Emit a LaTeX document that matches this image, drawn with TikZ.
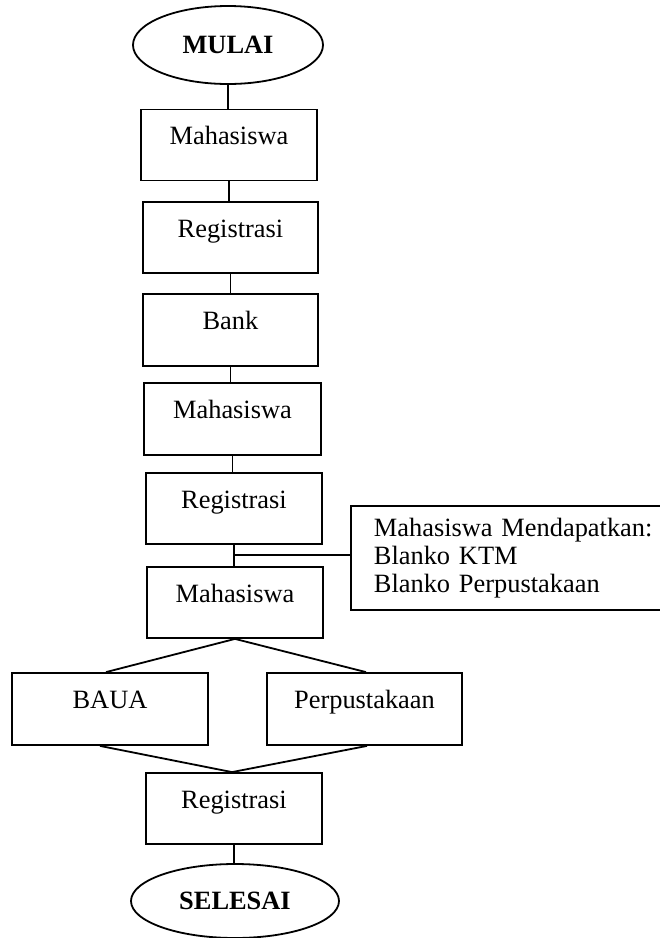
\documentclass[tikz,border=0pt]{standalone}
\usepackage{fontspec}
\setmainfont{Liberation Serif}
\usetikzlibrary{shapes.geometric}
\begin{document}
\begin{tikzpicture}[x=1pt,y=-1pt,
  txt/.style={font=\fontsize{26.4}{28}\selectfont},
  box/.style={txt, draw, line width=1.8pt, inner sep=0pt, minimum width=176pt, text height=35pt, text depth=36pt},
  term/.style={draw, ellipse, line width=1.8pt, inner sep=0pt, font=\fontsize{26.4}{28}\selectfont\bfseries},
  link/.style={line width=1.8pt}]
\useasboundingbox (0,0) rectangle (660,938);
\clip (0,0) rectangle (660,938);

\node[term, minimum width=190pt, minimum height=78pt] (start) at (228,45) {MULAI};
\node[box] (m1) at (229,145) {Mahasiswa};
\node[box, minimum width=175pt] (r1) at (230.5,237.5) {Registrasi};
\node[box, minimum width=175pt, text depth=37pt] (bank) at (230.5,330) {Bank};
\node[box, minimum width=177pt, text depth=37pt] (m2) at (232.5,419) {Mahasiswa};
\node[box] (r2) at (234,508.5) {Registrasi};
\node[box] (m3) at (235,602.5) {Mahasiswa};
\node[box, minimum width=196pt, text depth=37pt] (baua) at (110,709) {BAUA};
\node[box, minimum width=195pt, text depth=37pt] (lib) at (364.5,709) {Perpustakaan};
\node[box] (r3) at (234,808.5) {Registrasi};
\node[term, minimum width=208pt, minimum height=74pt] (end) at (235,901) {SELESAI};

\node[txt, draw, line width=1.8pt, anchor=north west, inner xsep=23pt, inner ysep=0pt,
      text width=300pt, align=left, minimum height=104pt] (note) at (350,505)
  {Mahasiswa Mendapatkan:\\Blanko KTM\\Blanko Perpustakaan};

\path (r2.south) ++(0,10) coordinate (j);

\draw[link] (start.south) -- (start.south |- m1.north);
\draw[link] (m1.south) -- (m1.south |- r1.north);
\draw[link] (r1.south) -- (r1.south |- bank.north);
\draw[link] (bank.south) -- (bank.south |- m2.north);
\draw[link] (m2.south) -- (m2.south |- r2.north);
\draw[link] (r2.south) -- (r2.south |- m3.north);
\draw[link] (j) -- (note.west |- j);
\draw[link] (m3.south) -- ([xshift=-4pt]baua.north);
\draw[link] (m3.south) -- ([xshift=1.5pt]lib.north);
\draw[link] ([xshift=-10pt]baua.south) -- ([xshift=-2pt]r3.north);
\draw[link] ([xshift=2.5pt]lib.south) -- ([xshift=-2pt]r3.north);
\draw[link] (r3.south) -- (r3.south |- end.north);
\end{tikzpicture}
\end{document}
